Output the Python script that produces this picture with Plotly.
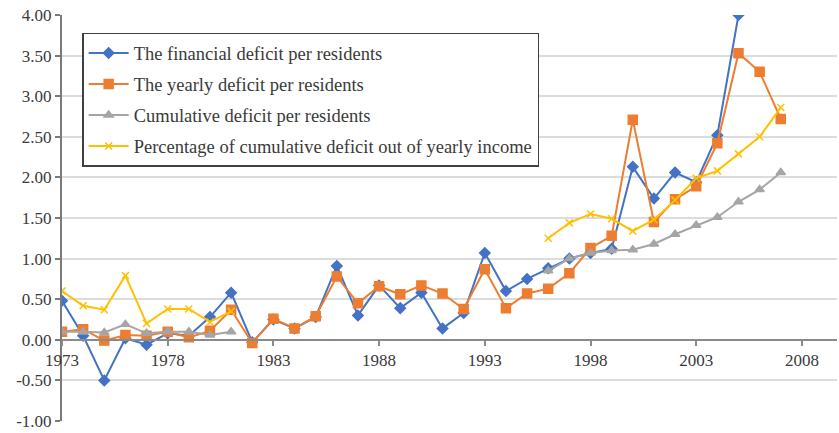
import plotly.graph_objects as go

years = list(range(1973, 2008))

financial = [0.48, 0.05, -0.50, 0.02, -0.06, 0.08, 0.05, 0.28, 0.58, -0.03,
             0.25, 0.14, 0.28, 0.91, 0.30, 0.67, 0.39, 0.58, 0.14, 0.33,
             1.07, 0.60, 0.75, 0.88, 1.00, 1.07, 1.12, 2.13, 1.74, 2.06,
             1.94, 2.52, 4.00, None, None]

yearly = [0.10, 0.13, -0.01, 0.06, 0.05, 0.10, 0.03, 0.11, 0.37, -0.04,
          0.26, 0.14, 0.29, 0.78, 0.45, 0.66, 0.56, 0.67, 0.57, 0.38,
          0.87, 0.39, 0.57, 0.63, 0.82, 1.13, 1.28, 2.71, 1.45, 1.73,
          1.89, 2.42, 3.53, 3.30, 2.72]

cumulative = [0.10, 0.10, 0.09, 0.19, 0.08, 0.10, 0.10, 0.06, 0.10, None,
              None, None, None, None, None, None, None, None, None, None,
              None, None, None, 0.85, 1.00, 1.07, 1.10, 1.11, 1.18, 1.30,
              1.41, 1.51, 1.70, 1.85, 2.06]

percentage = [0.60, 0.42, 0.37, 0.79, 0.20, 0.38, 0.38, 0.22, 0.35, None,
              None, None, None, None, None, None, None, None, None, None,
              None, None, None, 1.25, 1.44, 1.55, 1.49, 1.34, 1.48, 1.72,
              1.99, 2.08, 2.29, 2.50, 2.86]

series_names = ["The financial deficit per residents",
                "The yearly deficit per residents",
                "Cumulative deficit per residents",
                "Percentage of cumulative deficit out of yearly income"]

x_ticks = [1973, 1978, 1983, 1988, 1993, 1998, 2003, 2008]
y_ticks = [-1.0, -0.5, 0.0, 0.5, 1.0, 1.5, 2.0, 2.5, 3.0, 3.5, 4.0]
y_tick_text = ["-1.00", "-0.50", "0.00", "0.50", "1.00", "1.50", "2.00",
               "2.50", "3.00", "3.50", "4.00"]

FONT = "Liberation Serif"
TXT = "#3a3a3a"

styles = [
    dict(color="#4472C4", symbol="diamond", size=8),
    dict(color="#ED7D31", symbol="square", size=9),
    dict(color="#A5A5A5", symbol="triangle-up", size=8),
    dict(color="#FFC000", symbol="x-thin-open", size=7),
]

fig = go.Figure()
for i, (name, vals) in enumerate(zip(series_names, [financial, yearly, cumulative, percentage])):
    st = styles[i]
    fig.add_trace(go.Scatter(
        x=years, y=vals, name=name, mode="lines+markers",
        legendgroup=f"g{i}",
        line=dict(color=st["color"], width=2),
        marker=dict(color=st["color"], symbol=st["symbol"], size=st["size"],
                    line=dict(color=st["color"], width=1.5)),
    ))

fig.update_layout(
    width=839, height=433,
    margin=dict(l=62, r=2, t=15, b=12),
    paper_bgcolor="white", plot_bgcolor="white",
    font=dict(family=FONT, size=17, color=TXT),
    showlegend=True,
    legend=dict(
        x=0.026, y=0.956, xanchor="left", yanchor="top",
        bgcolor="white", bordercolor="#404040", borderwidth=1.5,
        font=dict(family=FONT, size=18.5, color=TXT),
        traceorder="grouped", tracegroupgap=4,
        itemwidth=40,
    ),
    xaxis=dict(
        range=[1973, 2009.66],
        tickvals=x_ticks, ticktext=[str(v) for v in x_ticks],
        showgrid=False, zeroline=False,
        showline=True, linecolor="#8a8a8a", linewidth=2,
        ticks="outside", ticklen=5, tickcolor="#8a8a8a", tickwidth=1.5,
        anchor="free", position=0.2,
        tickfont=dict(family=FONT, size=17, color=TXT),
    ),
    yaxis=dict(
        range=[-1, 4], tickvals=y_ticks, ticktext=y_tick_text,
        showgrid=True, gridcolor="#dcdcdc", gridwidth=1.5,
        zeroline=False,
        showline=True, linecolor="#7a7a7a", linewidth=2,
        ticks="outside", ticklen=5, tickcolor="#7a7a7a", tickwidth=1.5,
        tickfont=dict(family=FONT, size=17, color=TXT),
    ),
)

fig.write_html("out.html")
